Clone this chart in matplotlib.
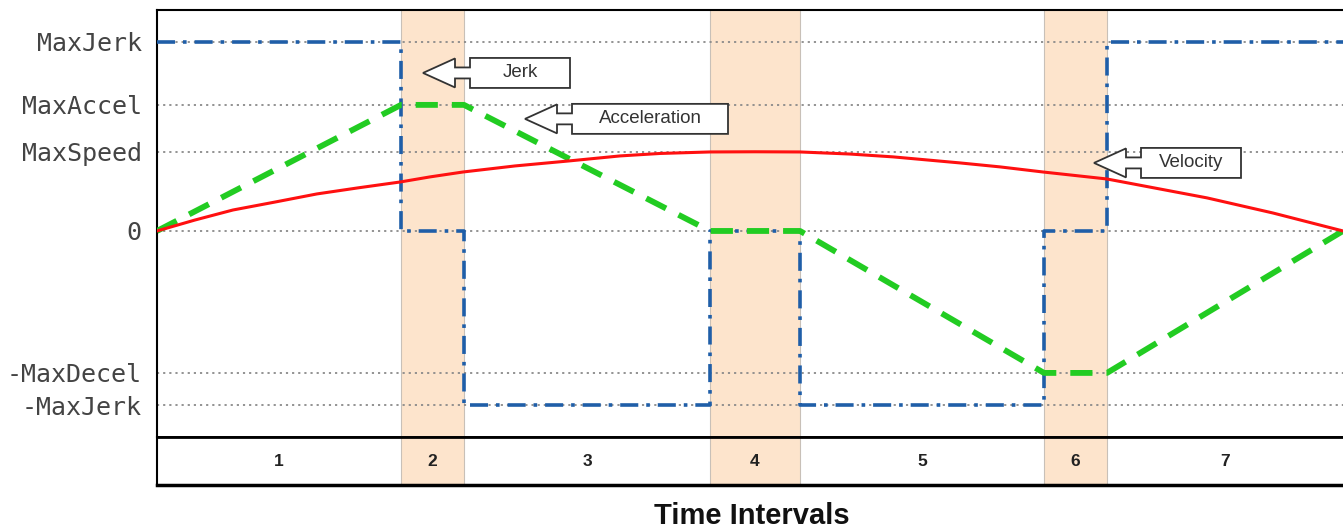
import matplotlib
matplotlib.use("Agg")
import matplotlib.pyplot as plt
from matplotlib.patches import Polygon

# time axis: interval edges (arbitrary time units)
t_edges = [0.0, 2.44, 3.07, 5.53, 6.43, 8.87, 9.50, 11.86]
interval_labels = ["1", "2", "3", "4", "5", "6", "7"]
shaded = [1, 3, 5]  # index of intervals that are shaded

# level names and their (relative) values
level_names = ["MaxJerk", "MaxAccel", "MaxSpeed", "0", "-MaxDecel", "-MaxJerk"]
level_values = [1.0, 0.667, 0.418, 0.0, -0.751, -0.921]

# jerk per interval (step)
jerk = [1.0, 0.0, -0.921, 0.0, -0.921, 0.0, 1.0]
# acceleration at interval edges
accel = [0.0, 0.667, 0.667, 0.0, 0.0, -0.751, -0.751, 0.0]
# velocity
vel_t = [0.0, 0.38, 0.76, 1.18, 1.60, 2.01, 2.43, 2.73, 3.06, 3.58, 4.11, 4.63, 5.03,
         5.53, 5.98, 6.43, 6.93, 7.36, 8.03, 8.43, 8.86, 9.50, 10.03, 10.50, 11.16, 11.86]
vel_v = [0.0, 0.058, 0.111, 0.153, 0.196, 0.228, 0.259, 0.286, 0.312, 0.344, 0.370, 0.397, 0.410,
         0.418, 0.419, 0.418, 0.407, 0.392, 0.360, 0.339, 0.312, 0.275, 0.222, 0.175, 0.095, 0.0]

# callouts: label, tip time, tip value, box width (px)
callouts = [("Jerk", 2.66, 0.836, 100),
            ("Acceleration", 3.68, 0.593, 156),
            ("Velocity", 9.37, 0.360, 100)]

W, H = 1343, 529
fig = plt.figure(figsize=(W / 100, H / 100), dpi=100)
ax = fig.add_axes([157 / W, (H - 437) / H, 1186 / W, 427 / H])
axi = fig.add_axes([157 / W, (H - 485) / H, 1186 / W, 48 / H])

band_col = "#fde4cc"
for a in (ax, axi):
    a.set_xlim(t_edges[0], t_edges[-1])
    for i in shaded:
        a.axvspan(t_edges[i], t_edges[i + 1], color=band_col, zorder=0, lw=0)
        for x in (t_edges[i], t_edges[i + 1]):
            a.axvline(x, color="#c8c0b8", lw=0.8, zorder=0.5)
    a.set_xticks([])
    a.spines["right"].set_visible(False)

ax.set_ylim(-1.09, 1.169)
for v in level_values:
    ax.axhline(v, color="#8a8a8a", lw=1.3, ls=(0, (1.2, 2.2)), zorder=1)

ax.set_yticks(level_values)
ax.set_yticklabels(level_names, family="DejaVu Sans Mono", fontsize=18, color="#444444")
ax.tick_params(axis="y", length=0, pad=11)
ax.spines["top"].set_linewidth(1.5)
ax.spines["left"].set_linewidth(1.5)
ax.spines["bottom"].set_linewidth(2)

# jerk (step), acceleration, velocity
ax.plot(t_edges, jerk + [jerk[-1]], drawstyle="steps-post", color="#1f5ea8",
        lw=2.6, ls=(0, (5, 2.2, 1, 2.2)), zorder=3)
ax.plot(t_edges, accel, color="#22cc22", lw=4.2, ls=(0, (3.8, 2.4)), zorder=4)
ax.plot(vel_t, vel_v, color="#ff1010", lw=2.2, zorder=5, solid_joinstyle="round")

# callout arrows, drawn in display pixels relative to the tip
fig.canvas.draw()
for label, tx, ty, bw in callouts:
    px, py = ax.transData.transform((tx, ty))
    hl, hh, sx, sh, bh = 32, 14.5, 47, 5.5, 15
    pts = [(0, 0), (hl, hh), (hl, sh), (sx, sh), (sx, bh), (sx + bw, bh),
           (sx + bw, -bh), (sx, -bh), (sx, -sh), (hl, -sh), (hl, -hh)]
    poly = Polygon([(px + x, py + y) for x, y in pts], closed=True,
                   facecolor="white", edgecolor="#333333", lw=1.3,
                   transform=None, zorder=6)
    fig.add_artist(poly)
    fig.text((px + sx + bw / 2) / W, py / H, label, ha="center", va="center",
             fontsize=13.5, family="Liberation Sans", color="#333333", zorder=7)

# interval row
axi.set_ylim(0, 1)
axi.set_yticks([])
axi.spines["top"].set_linewidth(2)
axi.spines["bottom"].set_linewidth(2.5)
axi.spines["left"].set_linewidth(1.5)
for i, lab in enumerate(interval_labels):
    axi.text((t_edges[i] + t_edges[i + 1]) / 2, 0.5, lab, ha="center", va="center",
             fontsize=12.5, fontweight="bold", family="Liberation Sans", color="#222222")

fig.text(752 / W, 5 / H, "Time Intervals", ha="center", va="baseline",
         fontsize=21, fontweight="bold", family="Liberation Sans", color="#111111")

fig.savefig("out.png", dpi=100)
